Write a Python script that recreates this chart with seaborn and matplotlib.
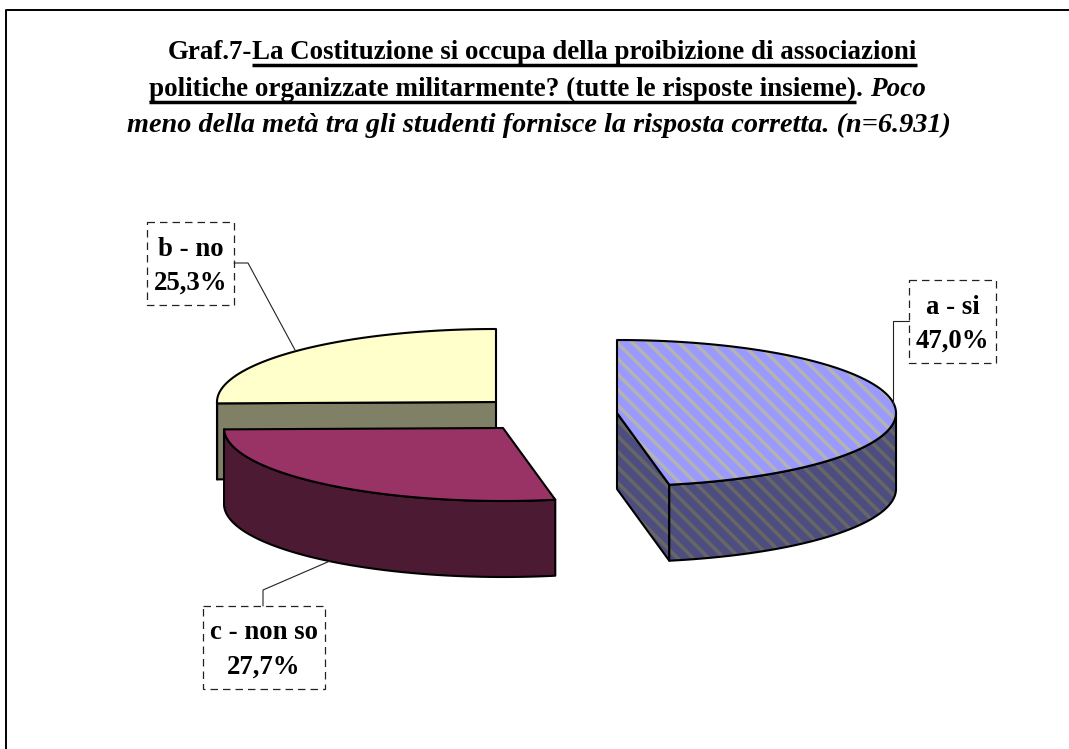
import matplotlib
matplotlib.use('Agg')
import matplotlib.pyplot as plt
from matplotlib.patches import Polygon, Rectangle
import seaborn as sns
import numpy as np

labels = ['a - si', 'b - no', 'c - non so']
values = [47.0, 25.3, 27.7]
# pie is drawn clockwise from the top in this order
order = ['a - si', 'c - non so', 'b - no']
top_colors = ['#9999FF', '#FFFFCC', '#993366']

title_lines = [
    [('Graf.7-', 'bold', 'normal', False),
     ('La Costituzione si occupa della proibizione di associazioni', 'bold', 'normal', True)],
    [('politiche organizzate militarmente? (tutte le risposte insieme)', 'bold', 'normal', True),
     ('. ', 'bold', 'normal', False),
     ('Poco', 'bold', 'italic', False)],
    [('meno della metà tra gli studenti fornisce la risposta corretta. (n=6.931)', 'bold', 'italic', False)],
]

sns.set_theme(style='white')
plt.rcParams['font.family'] = ['Liberation Serif', 'DejaVu Serif']
palette = dict(zip(labels, sns.color_palette(top_colors)))

RX, RY, DEPTH = 279, 73, 76
centers = {'a - si': (617, 413), 'b - no': (496, 402), 'c - non so': (503, 428)}
boxes = {'a - si': (909, 280, 996, 363), 'b - no': (147, 222, 234, 305), 'c - non so': (203, 606, 325, 689)}
baselines = {'a - si': (314, 348), 'b - no': (256, 290), 'c - non so': (639, 674)}
leaders = {'a - si': [(909, 321), (893, 321), (893, 405)],
           'b - no': [(234, 263), (248, 263), (295, 350)],
           'c - non so': [(263, 606), (263, 590), (330, 561)]}

fig = plt.figure(figsize=(10.69, 7.49), dpi=100)
ax = fig.add_axes([0, 0, 1, 1])
ax.set_xlim(0, 1069)
ax.set_ylim(749, 0)
ax.axis('off')

# frame, only top and left are in the picture
ax.plot([1069, 6, 6], [10, 10, 749], color='black', lw=1.4, solid_capstyle='butt')


def arc(c, t0, t1, dy=0):
    t = np.radians(np.linspace(t0, t1, 120))
    return np.column_stack([c[0] + RX * np.sin(t), c[1] - RY * np.cos(t) + dy])


def stripes(poly, color):
    # diagonal pattern of the blue slice, clipped to the face
    for off in 259 + 15.5 * np.arange(-80, 80):
        line, = ax.plot([off, off + 800], [0, 800], color=color, lw=2.6, zorder=poly.get_zorder())
        line.set_clip_path(poly)


def face(pts, color, z, stripe=None):
    p = Polygon(pts, closed=True, facecolor=color, edgecolor='none', zorder=z)
    ax.add_patch(p)
    if stripe:
        stripes(p, stripe)
    ax.add_patch(Polygon(pts, closed=True, fill=False, edgecolor='black', lw=1.5, zorder=z + 0.1,
                         joinstyle='round'))


shares = dict(zip(labels, np.array(values) / sum(values) * 360))
start = 0
angles = {}
for name in order:
    angles[name] = (start, start + shares[name])
    start += shares[name]

z = 2
for name in ['b - no', 'c - non so', 'a - si']:
    c = centers[name]
    t0, t1 = angles[name]
    top = palette[name]
    side = tuple(v * 0.5 for v in top)
    hatched = name == 'a - si'
    # faces of the cut that look at the viewer
    if 180 < t0 < 360:
        e = arc(c, t0, t0)[0]
        face([c, e, (e[0], e[1] + DEPTH), (c[0], c[1] + DEPTH)], side, z, '#666666' if hatched else None)
    if 0 < t1 < 180:
        e = arc(c, t1, t1)[0]
        face([c, e, (e[0], e[1] + DEPTH), (c[0], c[1] + DEPTH)], side, z, '#666666' if hatched else None)
    # outer wall
    w0, w1 = max(t0, 90), min(t1, 270)
    if w1 > w0:
        wall = np.vstack([arc(c, w0, w1), arc(c, w1, w0, DEPTH)])
        face(wall, side, z + 0.2, '#666666' if hatched else None)
    # top
    face(np.vstack([[c], arc(c, t0, t1)]), top, z + 0.4, '#B3B3B3' if hatched else None)
    z += 1

for name, val in zip(labels, values):
    x0, y0, x1, y1 = boxes[name]
    ax.add_patch(Rectangle((x0, y0), x1 - x0, y1 - y0, fill=False, edgecolor='#222222', lw=0.9,
                           linestyle=(0, (6, 4)), zorder=10))
    xs, ys = zip(*leaders[name])
    ax.plot(xs, ys, color='#222222', lw=0.8, zorder=9)
    cx = (x0 + x1) / 2
    ax.text(cx, baselines[name][0], name, fontsize=19.3, fontweight='bold', ha='center', va='baseline',
            color='black', zorder=11)
    ax.text(cx, baselines[name][1], f'{val:.1f}%'.replace('.', ','), fontsize=19.3, fontweight='bold',
            ha='center', va='baseline', color='black', zorder=11)

# title, pieces of different style placed one after the other
fig.canvas.draw()
rend = fig.canvas.get_renderer()
line_starts = [168, 149, 127]
line_base = [59, 96, 132]
line_sizes = [19.4, 19.55, 20.35]
for runs, x, y, fs in zip(title_lines, line_starts, line_base, line_sizes):
    for txt, weight, style, under in runs:
        t = ax.text(x, y, txt, fontsize=fs, fontweight=weight, fontstyle=style, ha='left', va='baseline',
                    color='black')
        adv = rend.get_text_width_height_descent(txt, t.get_fontproperties(), False)[0]
        if under:
            ax.plot([x, x + adv], [y + 5.5, y + 5.5], color='black', lw=2.5, solid_capstyle='butt')
        x += adv

fig.savefig('out.png', dpi=100)
